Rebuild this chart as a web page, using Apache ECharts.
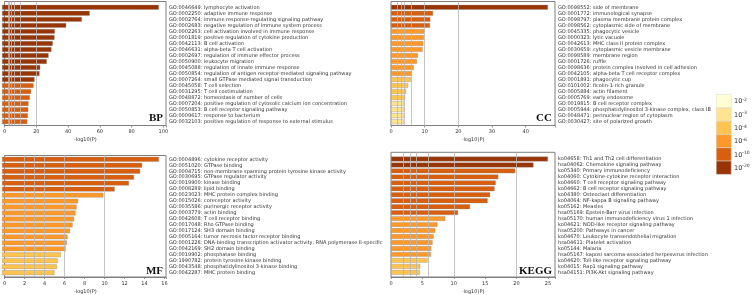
<!DOCTYPE html>
<html><head><meta charset="utf-8">
<script src="https://cdn.jsdelivr.net/npm/echarts@6/dist/echarts.min.js"></script>
<style>html,body{margin:0;padding:0;background:#fff}#c{width:753px;height:295px}</style>
</head><body><div id="c"></div>
<script>
// ---------- data ----------
const bpLabels = [
"GO:0046649: lymphocyte activation",
"GO:0002250: adaptive immune response",
"GO:0002764: immune response-regulating signaling pathway",
"GO:0002683: negative regulation of immune system process",
"GO:0002263: cell activation involved in immune response",
"GO:0001819: positive regulation of cytokine production",
"GO:0042113: B cell activation",
"GO:0046631: alpha-beta T cell activation",
"GO:0002697: regulation of immune effector process",
"GO:0050900: leukocyte migration",
"GO:0045088: regulation of innate immune response",
"GO:0050854: regulation of antigen receptor-mediated signaling pathway",
"GO:0007264: small GTPase mediated signal transduction",
"GO:0045058: T cell selection",
"GO:0031295: T cell costimulation",
"GO:0048872: homeostasis of number of cells",
"GO:0007204: positive regulation of cytosolic calcium ion concentration",
"GO:0050853: B cell receptor signaling pathway",
"GO:0009617: response to bacterium",
"GO:0032103: positive regulation of response to external stimulus"];
const bpValues = [97.3, 54.4, 49.5, 39.8, 32.8, 32.6, 31.5, 30.7, 28.9, 27.8, 23.7, 23.3, 20.2, 19.6, 18.1, 17.3, 16.5, 16.3, 16.1, 15.7];
const bpTicks = [0, 20, 40, 60, 80, 100];

const ccLabels = [
"GO:0098552: side of membrane",
"GO:0001772: immunological synapse",
"GO:0098797: plasma membrane protein complex",
"GO:0098562: cytoplasmic side of membrane",
"GO:0045335: phagocytic vesicle",
"GO:0000323: lytic vacuole",
"GO:0042613: MHC class II protein complex",
"GO:0030659: cytoplasmic vesicle membrane",
"GO:0098589: membrane region",
"GO:0001726: ruffle",
"GO:0098636: protein complex involved in cell adhesion",
"GO:0042105: alpha-beta T cell receptor complex",
"GO:0001891: phagocytic cup",
"GO:0101002: ficolin-1-rich granule",
"GO:0005884: actin filament",
"GO:0005769: early endosome",
"GO:0019815: B cell receptor complex",
"GO:0005944: phosphatidylinositol 3-kinase complex, class IB",
"GO:0048471: perinuclear region of cytoplasm",
"GO:0030427: site of polarized growth"];
const ccValues = [46.6, 12.5, 11.7, 11.6, 9.9, 9.8, 9.6, 9.4, 8.0, 7.7, 6.8, 6.2, 5.9, 5.1, 4.5, 4.2, 3.9, 3.9, 3.85, 3.85];
const ccTicks = [0, 10, 20, 30, 40];

const mfLabels = [
"GO:0004896: cytokine receptor activity",
"GO:0051020: GTPase binding",
"GO:0004715: non-membrane spanning protein tyrosine kinase activity",
"GO:0030695: GTPase regulator activity",
"GO:0019900: kinase binding",
"GO:0008289: lipid binding",
"GO:0023023: MHC protein complex binding",
"GO:0015026: coreceptor activity",
"GO:0035586: purinergic receptor activity",
"GO:0003779: actin binding",
"GO:0042608: T cell receptor binding",
"GO:0017048: Rho GTPase binding",
"GO:0017124: SH3 domain binding",
"GO:0005164: tumor necrosis factor receptor binding",
"GO:0001228: DNA-binding transcription activator activity, RNA polymerase II-specific",
"GO:0042169: SH2 domain binding",
"GO:0019902: phosphatase binding",
"GO:1990782: protein tyrosine kinase binding",
"GO:0043548: phosphatidylinositol 3-kinase binding",
"GO:0042287: MHC protein binding"];
const mfValues = [15.45, 13.8, 13.6, 13.0, 12.5, 11.1, 9.98, 7.5, 7.35, 7.25, 7.1, 6.95, 6.7, 6.45, 6.38, 6.28, 5.8, 5.5, 5.4, 5.17];
const mfTicks = [0, 2, 4, 6, 8, 10, 12, 14, 16];

const keggLabels = [
"ko04658: Th1 and Th2 cell differentiation",
"hsa04062: Chemokine signaling pathway",
"ko05340: Primary immunodeficiency",
"ko04060: Cytokine-cytokine receptor interaction",
"ko04660: T cell receptor signaling pathway",
"ko04662: B cell receptor signaling pathway",
"ko04380: Osteoclast differentiation",
"ko04064: NF-kappa B signaling pathway",
"ko05162: Measles",
"hsa05169: Epstein-Barr virus infection",
"hsa05170: human immunodeficiency virus 1 infection",
"ko04621: NOD-like receptor signaling pathway",
"hsa05200: Pathways in cancer",
"ko04670: Leukocyte transendothelial migration",
"hsa04611: Platelet activation",
"ko05144: Malaria",
"hsa05167: kaposi sarcoma-associated herpesvirus infection",
"ko04620: Toll-like receptor signaling pathway",
"ko04015: Rap1 signaling pathway",
"hsa04151: PI3K-Akt signaling pathway"];
const keggValues = [25.0, 22.7, 19.8, 17.1, 16.7, 16.5, 15.8, 15.4, 12.6, 10.7, 8.65, 7.4, 7.06, 6.8, 6.63, 6.42, 6.37, 5.84, 4.67, 4.62];
const keggTicks = [0, 5, 10, 15, 20, 25];

const panelNames = ["BP", "CC", "MF", "KEGG"];
const thresholds = [2, 3, 4, 6, 10, 20];            // -log10(P) cut points
const legendExponents = ["-2", "-3", "-4", "-6", "-10", "-20"];
const palette = ["#ffffd4", "#fee391", "#fec44f", "#fe9929", "#d95f0e", "#993404"];

// ---------- layout ----------
const FONT = "DejaVu Sans";
const layout = [
  {left: 2,   width: 164, fTop: 1.5,   fH: 124,   dTop: 4.3,   dH: 120.4},
  {left: 391, width: 164, fTop: 1.5,   fH: 124,   dTop: 4.3,   dH: 120.4},
  {left: 2,   width: 164, fTop: 155.5, fH: 123,   dTop: 156.3, dH: 119.4},
  {left: 391, width: 164, fTop: 152.3, fH: 125.5, dTop: 156.0, dH: 119.3}
];
const panels = [
  {labels: bpLabels, values: bpValues, ticks: bpTicks},
  {labels: ccLabels, values: ccValues, ticks: ccTicks},
  {labels: mfLabels, values: mfValues, ticks: mfTicks},
  {labels: keggLabels, values: keggValues, ticks: keggTicks}
];

function colorFor(v) {
  let idx = 0;
  for (let i = 0; i < thresholds.length; i++) if (v >= thresholds[i]) idx = i;
  return palette[idx];
}

const grid = [], xAxis = [], yAxis = [], series = [], graphic = [];
panels.forEach((p, i) => {
  const L = layout[i];
  const maxV = Math.max(...p.values) * 1.045;
  const interval = p.ticks[1] - p.ticks[0];
  // frame grid
  grid.push({left: L.left, top: L.fTop, width: L.width, height: L.fH, show: true,
             borderColor: '#7f7f7f', borderWidth: 1, backgroundColor: 'transparent'});
  xAxis.push({type: 'value', gridIndex: i, min: 0, max: maxV, interval: interval,
    axisLine: {show: true, lineStyle: {color: '#7f7f7f', width: 1}},
    axisTick: {show: true, length: 2, lineStyle: {color: '#7f7f7f', width: 0.8}},
    splitLine: {show: false},
    axisLabel: {fontSize: 5, color: '#333', margin: 4, fontFamily: FONT,
      formatter: v => p.ticks.some(t => Math.abs(t - v) < 1e-9) ? String(v) : ''},
    name: '-log10(P)', nameLocation: 'middle', nameGap: 12,
    nameTextStyle: {fontSize: 5, color: '#333', fontFamily: FONT}});
  yAxis.push({type: 'value', gridIndex: i, min: 0, max: 1, show: false});
  series.push({type: 'line', xAxisIndex: i, yAxisIndex: i, data: [], z: 1, silent: true,
    markLine: {silent: true, symbol: 'none', label: {show: false}, animation: false,
      lineStyle: {color: '#b8b8b8', width: 0.8, type: 'solid'},
      data: thresholds.filter(t => t < maxV).map(t => ({xAxis: t}))}});
  // panel title
  graphic.push({type: 'text', right: 753 - (L.left + L.width) + 3, top: L.fTop + L.fH - 12.5, z: 10,
    style: {text: panelNames[i], font: 'bold 11px "Liberation Serif"', fill: '#111'}});
});
panels.forEach((p, i) => {
  const L = layout[i];
  const gi = i + 4;
  const maxV = Math.max(...p.values) * 1.045;
  grid.push({left: L.left, top: L.dTop, width: L.width, height: L.dH, show: false});
  xAxis.push({type: 'value', gridIndex: gi, min: 0, max: maxV, show: false});
  yAxis.push({type: 'category', gridIndex: gi, data: p.labels, inverse: true, position: 'right',
    axisLine: {show: false}, axisTick: {show: false},
    axisLabel: {fontSize: 5, color: '#333', margin: 3, interval: 0, fontFamily: FONT}});
  series.push({type: 'bar', xAxisIndex: gi, yAxisIndex: gi, z: 3, barCategoryGap: '18%',
    data: p.values.map(v => ({value: v, itemStyle: {color: colorFor(v)}})),
    itemStyle: {borderColor: 'rgba(140,140,140,0.7)', borderWidth: 0.5}});
});

// legend (color key)
palette.forEach((c, k) => {
  graphic.push({type: 'rect', left: 716, top: 94.3 + k * 13.3, z: 5,
    shape: {width: 15, height: 13.3}, style: {fill: c, stroke: '#d8d8d8', lineWidth: 0.5}});
  graphic.push({type: 'text', left: 734, top: 94.3 + k * 13.3 + 3, z: 5,
    style: {text: '{b|10}{s|' + legendExponents[k] + '}',
      rich: {b: {fontSize: 6.5, fontFamily: FONT, fill: '#333', verticalAlign: 'bottom', lineHeight: 8},
             s: {fontSize: 4.5, fontFamily: FONT, fill: '#333', verticalAlign: 'top', lineHeight: 8}}}});
});

const chart = echarts.init(document.getElementById('c'), null, {renderer: 'canvas'});
chart.setOption({animation: false, grid, xAxis, yAxis, series, graphic,
  textStyle: {fontFamily: FONT}});
</script></body></html>
